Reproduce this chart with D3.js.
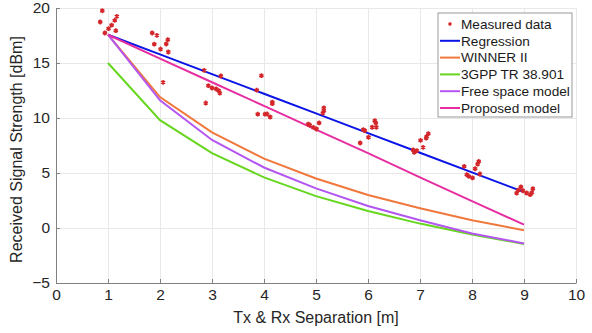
<!DOCTYPE html>
<html>
<head>
<meta charset="utf-8">
<script src="https://cdn.jsdelivr.net/npm/d3@7"></script>
<style>
  body { margin: 0; background: #fff; }
  svg { display: block; font-family: "Liberation Sans", Arial, sans-serif; }
</style>
</head>
<body>
<div id="chart"></div>
<script>
// Measured samples (distance in m, RSS in dBm)
var measuredX = [
  0.89, 0.85, 1.17, 1.13, 1.07, 1.01, 0.94, 1.15,
  1.85, 1.94, 2.15, 1.89, 2.12, 2.01, 2.16, 2.06,
  2.85, 3.17, 2.93, 3.00, 3.08, 3.13, 3.15, 2.88,
  3.95, 3.86, 4.16, 4.16, 3.88, 4.02, 4.06, 4.12,
  5.15, 5.15, 5.13, 5.06, 4.85, 4.88, 4.95, 5.01,
  6.13, 6.15, 6.08, 6.16, 5.91, 5.94, 6.01, 5.85,
  7.16, 7.13, 7.12, 7.01, 7.06, 6.87, 6.89, 6.94,
  8.13, 8.11, 8.06, 7.85, 8.15, 7.90, 7.94, 8.01,
  8.94, 9.17, 8.86, 8.89, 9.05, 9.12, 9.15, 8.98
];
var measuredY = [
  19.75, 18.73, 19.24, 18.87, 18.44, 18.12, 17.73, 17.94,
  17.73, 17.51, 17.12, 16.71, 16.73, 16.27, 16.00, 13.24,
  14.33, 13.82, 12.94, 12.73, 12.64, 12.48, 12.27, 11.36,
  13.85, 12.53, 11.45, 11.30, 10.35, 10.35, 10.36, 10.09,
  10.91, 10.66, 10.45, 9.55, 9.45, 9.36, 9.15, 9.00,
  9.75, 9.55, 9.16, 9.16, 8.94, 8.85, 8.25, 7.73,
  8.57, 8.33, 8.18, 7.96, 7.33, 7.09, 6.87, 7.03,
  6.05, 5.82, 5.39, 5.60, 4.91, 4.85, 4.69, 4.55,
  3.73, 3.57, 3.18, 3.44, 3.18, 3.03, 3.21, 3.39
];

// Model curves, evaluated at 1..9 m
var distances = [1, 2, 3, 4, 5, 6, 7, 8, 9];
var regression = [17.57, 15.78, 13.99, 12.20, 10.42, 8.63, 6.84, 5.06, 3.27];
var winner2 = [17.57, 11.9, 8.7, 6.3, 4.5, 3.0, 1.8, 0.7, -0.2];
var gpp38901 = [15.0, 9.8, 6.8, 4.6, 2.9, 1.55, 0.4, -0.6, -1.45];
var freeSpace = [17.57, 11.6, 8.0, 5.5, 3.6, 2.0, 0.7, -0.5, -1.4];
var proposed = [17.57, 15.4, 13.25, 11.1, 8.95, 6.8, 4.6, 2.45, 0.3];

var xTicks = [0, 1, 2, 3, 4, 5, 6, 7, 8, 9, 10];
var yTicks = [-5, 0, 5, 10, 15, 20];

var seriesNames = ["Regression", "WINNER II", "3GPP TR 38.901", "Free space model", "Proposed model"];
var seriesValues = [regression, winner2, gpp38901, freeSpace, proposed];
var seriesColors = ["#0a14e6", "#f0783c", "#66d61e", "#b455f0", "#e62ea0"];

var width = 592, height = 333;
var margin = { top: 8, right: 16, bottom: 50, left: 56 };

var svg = d3.select("#chart").append("svg")
  .attr("width", width)
  .attr("height", height);

var xScale = d3.scaleLinear().domain([0, 10]).range([margin.left, width - margin.right]);
var yScale = d3.scaleLinear().domain([-5, 20]).range([height - margin.bottom, margin.top]);

// grid
svg.append("g")
  .selectAll("line.vg")
  .data(xTicks.slice(1))
  .enter().append("line")
  .attr("x1", d => xScale(d)).attr("x2", d => xScale(d))
  .attr("y1", yScale(-5)).attr("y2", yScale(20))
  .attr("stroke", "#e8e8e8").attr("shape-rendering", "crispEdges");
svg.append("g")
  .selectAll("line.hg")
  .data(yTicks.slice(1))
  .enter().append("line")
  .attr("x1", xScale(0)).attr("x2", xScale(10))
  .attr("y1", d => yScale(d)).attr("y2", d => yScale(d))
  .attr("stroke", "#e8e8e8").attr("shape-rendering", "crispEdges");

// axes
var xAxis = d3.axisBottom(xScale).tickValues(xTicks).tickSizeInner(-4).tickSizeOuter(0).tickPadding(8);
var yAxis = d3.axisLeft(yScale).tickValues(yTicks).tickSizeInner(-4).tickSizeOuter(0).tickPadding(6);

var gx = svg.append("g")
  .attr("transform", "translate(0," + yScale(-5) + ")")
  .call(xAxis);
var gy = svg.append("g")
  .attr("transform", "translate(" + xScale(0) + ",0)")
  .call(yAxis);

[gx, gy].forEach(function(g) {
  g.select(".domain").attr("stroke", "#808080");
  g.selectAll(".tick line").attr("stroke", "#808080");
  g.selectAll(".tick text")
    .attr("fill", "#262626")
    .style("font-size", "15.5px")
    .style("font-family", "'Liberation Sans', Arial, sans-serif");
});
gx.selectAll(".tick text").attr("dy", "0.6em");

// axis titles
svg.append("text")
  .attr("x", (xScale(0) + xScale(10)) / 2)
  .attr("y", 323)
  .attr("text-anchor", "middle")
  .attr("fill", "#262626")
  .style("font-size", "16px")
  .text("Tx & Rx Separation [m]");
svg.append("text")
  .attr("transform", "translate(22," + ((yScale(-5) + yScale(20)) / 2 + 4) + ") rotate(-90)")
  .attr("text-anchor", "middle")
  .attr("fill", "#262626")
  .style("font-size", "16px")
  .text("Received Signal Strength [dBm]");

// model lines
var line = d3.line()
  .x((d, i) => xScale(distances[i]))
  .y(d => yScale(d));

svg.append("g")
  .selectAll("path")
  .data(seriesValues)
  .enter().append("path")
  .attr("d", line)
  .attr("fill", "none")
  .attr("stroke", (d, i) => seriesColors[i])
  .attr("stroke-width", 2);

// measured points
var star = d3.symbol().type(d3.symbolAsterisk || d3.symbolCross).size(16);
svg.append("g")
  .selectAll("path")
  .data(measuredX)
  .enter().append("path")
  .attr("d", star)
  .attr("transform", (d, i) => "translate(" + xScale(d) + "," + yScale(measuredY[i]) + ")")
  .attr("fill", "none")
  .attr("stroke", "#d4262a")
  .attr("stroke-width", 1.6);

// legend
var legend = svg.append("g").attr("transform", "translate(438,13)");
legend.append("rect")
  .attr("width", 134).attr("height", 104)
  .attr("fill", "#fff").attr("stroke", "#999");

var legendNames = ["Measured data"].concat(seriesNames);
var rows = legend.selectAll("g.row")
  .data(legendNames)
  .enter().append("g")
  .attr("transform", (d, i) => "translate(0," + (11 + i * 16.8) + ")");

rows.append("text")
  .attr("x", 23)
  .attr("dy", "0.35em")
  .attr("fill", "#1a1a1a")
  .style("font-size", "13.6px")
  .text(d => d);

rows.filter((d, i) => i > 0).append("line")
  .attr("x1", 2).attr("x2", 22)
  .attr("stroke", (d, i) => seriesColors[i])
  .attr("stroke-width", 2);

rows.filter((d, i) => i === 0).append("path")
  .attr("d", d3.symbol().type(d3.symbolAsterisk || d3.symbolCross).size(8))
  .attr("transform", "translate(12,0)")
  .attr("fill", "none")
  .attr("stroke", "#d4262a")
  .attr("stroke-width", 1.4);
</script>
</body>
</html>
